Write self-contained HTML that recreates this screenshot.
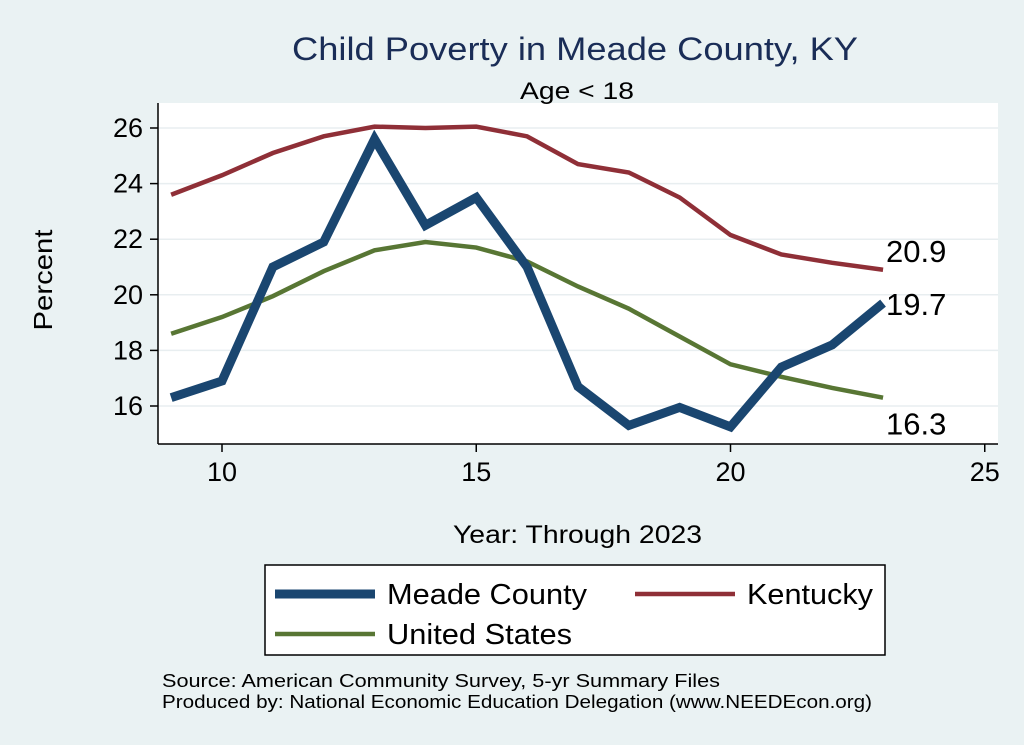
<!DOCTYPE html>
<html><head><meta charset="utf-8"><style>
body{margin:0;background:#eaf2f3;font-family:"Liberation Sans",sans-serif}
svg{display:block}
</style></head><body>
<svg width="1024" height="745">
<rect x="0" y="0" width="1024" height="745" fill="#eaf2f3"/>
<rect x="158" y="103" width="840" height="341" fill="#ffffff"/>
<text x="292" y="60" font-size="32" fill="#1a2d57" textLength="566" lengthAdjust="spacingAndGlyphs">Child Poverty in Meade County, KY</text>
<text x="520" y="99" font-size="24" fill="#000" textLength="114" lengthAdjust="spacingAndGlyphs">Age &lt; 18</text>
<g id="grid"></g>
<g id="axes"></g>
<g id="series"></g>
<text x="52" y="280" font-size="26" text-anchor="middle" textLength="101" lengthAdjust="spacingAndGlyphs" transform="rotate(-90 52 280)">Percent</text>
<text x="453" y="543" font-size="25" textLength="249" lengthAdjust="spacingAndGlyphs">Year: Through 2023</text>
<g>
<rect x="265" y="565" width="620" height="90" fill="#fff" stroke="#000" stroke-width="1.5"/>
<line x1="275" y1="594" x2="375" y2="594" stroke="#1a4670" stroke-width="9"/>
<text x="387" y="604" font-size="29" textLength="200" lengthAdjust="spacingAndGlyphs">Meade County</text>
<line x1="635" y1="594" x2="735" y2="594" stroke="#8f2f37" stroke-width="4.5"/>
<text x="747" y="604" font-size="29" textLength="126" lengthAdjust="spacingAndGlyphs">Kentucky</text>
<line x1="275" y1="634" x2="375" y2="634" stroke="#587634" stroke-width="4.5"/>
<text x="387" y="644" font-size="29" textLength="185" lengthAdjust="spacingAndGlyphs">United States</text>
</g>
<text x="162" y="687" font-size="18" textLength="558" lengthAdjust="spacingAndGlyphs">Source: American Community Survey, 5-yr Summary Files</text>
<text x="162" y="708" font-size="18" textLength="710" lengthAdjust="spacingAndGlyphs">Produced by: National Economic Education Delegation (www.NEEDEcon.org)</text>
</svg>
<script>
const years=[9,10,11,12,13,14,15,16,17,18,19,20,21,22,23];
const meade=[16.3,16.9,21.0,21.9,25.6,22.5,23.5,21.0,16.7,15.3,15.95,15.25,17.4,18.2,19.7];
const kentucky=[23.6,24.3,25.1,25.7,26.05,26.0,26.05,25.7,24.7,24.4,23.5,22.15,21.45,21.15,20.9];
const us=[18.6,19.2,19.95,20.85,21.6,21.9,21.7,21.2,20.3,19.5,18.5,17.5,17.05,16.65,16.3];
const xTicks=[10,15,20,25];
const yTicks=[16,18,20,22,24,26];
const X=v=>222+(v-10)*50.85;
const Y=v=>406-(v-16)*27.8;
const NS="http://www.w3.org/2000/svg";
function mk(t,a,p){const e=document.createElementNS(NS,t);for(const k in a)e.setAttribute(k,a[k]);p.appendChild(e);return e;}
const grid=document.getElementById('grid'),axes=document.getElementById('axes'),ser=document.getElementById('series');
yTicks.forEach(t=>{
 const g=mk('line',{x1:158,x2:998,y1:Y(t),y2:Y(t),stroke:'#e8eef0','stroke-width':1.5},grid);
 
 
 const tk=mk('line',{x1:150,x2:158,y1:Y(t),y2:Y(t),stroke:'#000','stroke-width':1.5},axes);
 
 
 const l=mk('text',{x:143,y:Y(t)+9,'font-size':27,'text-anchor':'end'},axes);l.textContent=t;
 
 
});
xTicks.forEach(t=>{
 const tk=mk('line',{x1:X(t),x2:X(t),y1:444,y2:452,stroke:'#000','stroke-width':1.5},axes);
 
 
 const l=mk('text',{x:X(t),y:481,'font-size':27,'text-anchor':'middle'},axes);l.textContent=t;
 
 
});
const ya=mk('line',{x1:158,x2:158,y1:103,y2:444,stroke:'#000','stroke-width':1.5},axes);


const xa=mk('line',{x1:158,x2:998,y1:444,y2:444,stroke:'#000','stroke-width':1.5},axes);


function line(vals,color,w,name){
 const p=mk('polyline',{points:vals.map((v,i)=>X(years[i])+','+Y(v)).join(' '),fill:'none',stroke:color,'stroke-width':w,'stroke-linejoin':'miter'},ser);
 
 
}
line(kentucky,'#8f2f37',4.5,'kentucky-line');
line(us,'#587634',4.5,'us-line');
line(meade,'#1a4670',9,'meade-line');
const n=years.length-1;
function lab(v,dy,name){const t=mk('text',{x:X(years[n])+3,y:Y(v)+dy,'font-size':31},ser);t.textContent=v.toFixed(1);
 
 }
lab(kentucky[n],-8,'kentucky-end-label');
lab(meade[n],12,'meade-end-label');
lab(us[n],37,'us-end-label');
</script>
</body></html>
